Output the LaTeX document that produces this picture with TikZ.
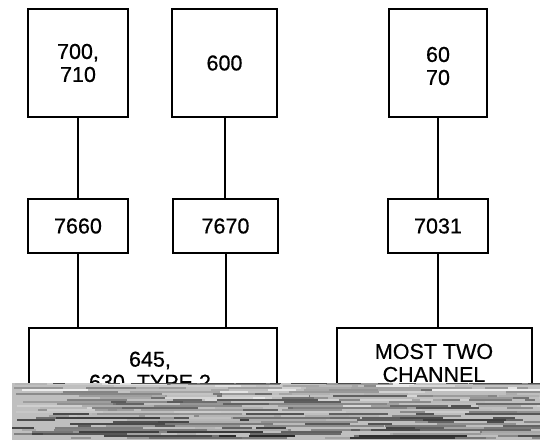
\documentclass[tikz,border=0pt]{standalone}
\usepackage{fontspec}
\setmainfont[FakeBold=0.6]{Liberation Sans}
\begin{document}
\begin{tikzpicture}[x=1pt,y=1pt,
  box/.style={draw=black, line width=2.4pt, rectangle, inner sep=0pt, align=center,
    font=\fontsize{21.5}{23}\selectfont},
  lbl/.style={inner sep=0pt, align=center, font=\fontsize{21.5}{23}\selectfont},
  link/.style={draw=black, line width=2pt}]
\useasboundingbox (0,0) rectangle (540,439);
\clip (0,0) rectangle (540,439);
\fill[white] (0,0) rectangle (540,439);
% top row
\node[box, minimum width=100pt, minimum height=108pt] (b1) at (78,376) {700,\\710};
\node[box, minimum width=105pt, minimum height=108pt] (b2) at (224.5,376) {600};
\node[box, minimum width=98pt, minimum height=108pt] (b3) at (438,376) {};
\node[lbl] (b3t) at (438,373) {60\\70};
% middle row
\node[box, minimum width=100pt, minimum height=54pt] (m1) at (78,213) {7660};
\node[box, minimum width=105pt, minimum height=54pt] (m2) at (225.5,213) {7670};
\node[box, minimum width=100pt, minimum height=54pt] (m3) at (438,213) {7031};
% bottom row (extends below the visible area)
\node[box, minimum width=248pt, minimum height=140pt, anchor=north] (bl) at (153,112) {};
\node[box, minimum width=195pt, minimum height=140pt, anchor=north] (br) at (434.5,112) {};
\node[lbl] (blt) at (150,67) {645,\\630, TYPE 2};
\node[lbl] (brt) at (434,76) {MOST TWO\\CHANNEL};
% connectors
\draw[link] (b1.south) -- (b1.south |- m1.north);
\draw[link] (b2.south) -- (b2.south |- m2.north);
\draw[link] (b3.south) -- (b3.south |- m3.north);
\draw[link] (m1.south) -- (m1.south |- bl.north);
\draw[link] (m2.south) -- (m2.south |- bl.north);
\draw[link] (m3.south) -- (m3.south |- br.north);
% corrupted noise band at the bottom
\fill[black!25] (12,-2) rectangle (542,56);
\pgfmathsetseed{7}
\foreach \r in {0,...,27}{
  \pgfmathsetmacro\yy{\r*2}
  \foreach \s in {1,...,12}{
    \pgfmathsetmacro\xa{12+rnd*528}
    \pgfmathsetmacro\len{8+rnd*110}
    \pgfmathtruncatemacro\gv{rnd*55+(28-\r)*1.2}
    \fill[black!\gv] (\xa,\yy) rectangle ({min(\xa+\len,542)},\yy+2);
  }
}
\foreach \s in {1,...,30}{
  \pgfmathsetmacro\xa{12+rnd*520}
  \pgfmathsetmacro\len{5+rnd*25}
  \fill[black!70] (\xa,55) rectangle ({min(\xa+\len,542)},56.5);
}
\end{tikzpicture}
\end{document}
